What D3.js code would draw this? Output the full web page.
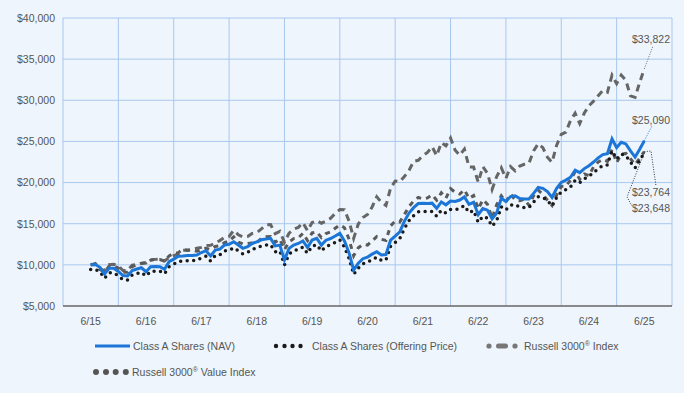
<!DOCTYPE html>
<html>
<head>
<meta charset="utf-8">
<script src="https://cdn.jsdelivr.net/npm/d3@7"></script>
<style>
  html, body { margin: 0; padding: 0; background: #eef5fc; }
  svg text { font-family: "Liberation Sans", Arial, sans-serif; fill: #555; }
</style>
</head>
<body>
<div id="chart"></div>
<script>
// growth of $10,000, monthly from 6/15 to 6/25
var yearLabels = ['6/15', '6/16', '6/17', '6/18', '6/19', '6/20', '6/21', '6/22', '6/23', '6/24', '6/25'];
var yTicks = [5000, 10000, 15000, 20000, 25000, 30000, 35000, 40000];

var navValues = [
  10000, 10050, 9700, 8890, 9580, 9580, 9200, 8700, 8650, 9300, 9500, 9650,
  9170, 9780, 9800, 9780, 9460, 10380, 10700, 11050, 11080, 11150, 11150, 11200,
  11500, 11720, 11080, 11800, 11900, 12410, 12500, 12810, 12410, 12010, 12200, 12600,
  12800, 13050, 13150, 13220, 12300, 12400, 10600, 12000, 12400, 12600, 12900, 12100,
  13020, 13220, 12410, 13000, 13200, 13500, 13830, 12900, 11450, 9375, 10190, 10750,
  10950, 11300, 11600, 11200, 11250, 13000, 13500, 14000, 15300, 16300, 16950, 17450,
  17500, 17450, 17500, 16870, 17650, 17300, 17750, 17700, 17880, 18250, 17350, 17600,
  16100, 16850, 16650, 15600, 16300, 18100, 17700, 18300, 18400, 18050, 18000, 18000,
  18690, 19400, 19300, 18900, 18200, 19300, 20030, 20300, 20650, 21500, 21200, 21700,
  22050, 22500, 23000, 23400, 23500, 25300, 24250, 24900, 24700, 23850, 23100, 24050,
  25090
];

var offeringValues = [
  9425, 9472, 9142, 8379, 9029, 9029, 8671, 8200, 8153, 8765, 8954, 9095,
  8643, 9218, 9237, 9218, 8916, 9783, 10085, 10415, 10443, 10509, 10509, 10556,
  10839, 11046, 10443, 11122, 11216, 11696, 11781, 12073, 11696, 11319, 11499, 11876,
  12064, 12300, 12394, 12460, 11593, 11687, 9991, 11310, 11687, 11876, 12158, 11404,
  12271, 12460, 11696, 12253, 12441, 12724, 13035, 12158, 10792, 8836, 9604, 10132,
  10320, 10650, 10933, 10556, 10603, 12253, 12724, 13195, 14420, 15363, 15975, 16447,
  16494, 16447, 16494, 15900, 16635, 16305, 16729, 16682, 16852, 17201, 16352, 16588,
  15174, 15881, 15693, 14703, 15363, 17059, 16682, 17248, 17342, 17012, 16965, 16965,
  17615, 18285, 18190, 17813, 17154, 18190, 18878, 19133, 19463, 20264, 19981, 20452,
  20782, 21206, 21678, 22055, 22149, 23845, 22856, 23468, 23280, 22479, 21772, 22667,
  23648
];

var r3000Values = [
  10000, 10170, 9560, 9283, 10016, 10076, 9865, 9312, 9312, 9964, 10024, 10204,
  10225, 10634, 10666, 10687, 10452, 10922, 11130, 11341, 11761, 11773, 11891, 12010,
  12118, 12348, 12373, 12670, 12949, 13337, 13470, 14184, 13659, 13386, 13440, 13816,
  13913, 14372, 14861, 14890, 13788, 14064, 12756, 13853, 14338, 14553, 15135, 14151,
  15142, 15369, 15062, 15333, 15655, 16250, 16721, 16704, 15334, 13218, 14963, 15756,
  16118, 17037, 18264, 17606, 17219, 19319, 20188, 20107, 20730, 21476, 22593, 22706,
  23274, 23669, 24356, 23260, 24841, 24469, 25423, 23923, 23325, 24071, 21905, 21883,
  20045, 21929, 21118, 19154, 20725, 21803, 20517, 21932, 21428, 22007, 22227, 22338,
  23857, 24716, 24246, 23082, 22459, 24548, 25849, 26133, 27544, 28426, 27175, 28452,
  29334, 29891, 30549, 31190, 30972, 33047, 32023, 33048, 32420, 30539, 30356, 32180,
  33822
];

var r3000ValueValues = [
  10000, 10044, 9435, 9155, 9828, 9861, 9617, 9111, 9105, 9791, 10011, 10175,
  10270, 10572, 10660, 10643, 10455, 11096, 11390, 11485, 11890, 11776, 11758, 11656,
  11847, 12006, 11866, 12226, 12316, 12703, 12899, 13405, 12767, 12542, 12584, 12665,
  12707, 13208, 13409, 13442, 12735, 13110, 11841, 12781, 13195, 13265, 13827, 12948,
  13885, 14000, 13319, 13804, 14002, 14442, 14837, 14517, 13112, 11100, 12068, 12484,
  12399, 12900, 13434, 13103, 12977, 14734, 15315, 15212, 16131, 17089, 17779, 18194,
  18001, 18134, 18502, 17862, 18762, 18111, 19260, 18824, 18605, 19132, 18068, 18418,
  16802, 17918, 17370, 15690, 17311, 18392, 17664, 18607, 17905, 17804, 17954, 17258,
  18405, 19075, 18567, 17847, 17211, 18510, 19533, 19561, 20292, 21315, 20404, 21046,
  20842, 21912, 22491, 22814, 22572, 24023, 22422, 23463, 23540, 22889, 22188, 22974,
  23764
];

var svgWidth = 684;
var svgHeight = 393;
var plot = {left: 63, right: 672, top: 18, bottom: 306};

var svg = d3.select('#chart').append('svg')
  .attr('width', svgWidth)
  .attr('height', svgHeight);

svg.append('rect')
  .attr('width', svgWidth)
  .attr('height', svgHeight)
  .attr('fill', '#eef5fc');

var y = d3.scaleLinear()
  .domain([5000, 40000])
  .range([plot.bottom, plot.top]);

var xBand = d3.scaleBand()
  .domain(yearLabels)
  .range([plot.left, plot.right]);

var half = xBand.bandwidth() / 2;
var x = d3.scaleLinear()
  .domain([0, navValues.length - 1])
  .range([xBand(yearLabels[0]) + half, xBand(yearLabels[yearLabels.length - 1]) + half]);

// grid
var gridColor = '#a9c7ee';
svg.append('g').selectAll('line.h')
  .data(yTicks.slice(1))
  .enter().append('line')
  .attr('x1', plot.left).attr('x2', plot.right)
  .attr('y1', d => y(d)).attr('y2', d => y(d))
  .attr('stroke', gridColor).attr('stroke-width', 1);

var edges = yearLabels.map(d => xBand(d)).concat([plot.right]);
svg.append('g').selectAll('line.v')
  .data(edges)
  .enter().append('line')
  .attr('x1', d => d).attr('x2', d => d)
  .attr('y1', plot.top).attr('y2', plot.bottom)
  .attr('stroke', gridColor).attr('stroke-width', 1);

// axes
var yAxis = svg.append('g')
  .attr('transform', 'translate(' + plot.left + ',0)')
  .call(d3.axisLeft(y).tickValues(yTicks).tickSize(0).tickPadding(8)
    .tickFormat(d => '$' + d3.format(',')(d)));
yAxis.select('.domain').remove();
yAxis.selectAll('text').style('font-size', '10.5px').style('fill', '#555');

var xAxis = svg.append('g')
  .attr('transform', 'translate(0,' + plot.bottom + ')')
  .call(d3.axisBottom(xBand).tickSize(0).tickPadding(12));
xAxis.select('.domain').remove();
xAxis.selectAll('text').style('font-size', '10.5px').style('fill', '#555');

svg.append('line')
  .attr('x1', plot.left).attr('x2', plot.right)
  .attr('y1', plot.bottom).attr('y2', plot.bottom)
  .attr('stroke', '#666').attr('stroke-width', 1.5);

// series
var line = d3.line()
  .x((d, i) => x(i))
  .y(d => y(d));

svg.append('path')
  .datum(r3000Values)
  .attr('d', line)
  .attr('fill', 'none')
  .attr('stroke', '#666')
  .attr('stroke-width', 3)
  .attr('stroke-dasharray', '7,5');

svg.append('path')
  .datum(r3000ValueValues)
  .attr('d', line)
  .attr('fill', 'none')
  .attr('stroke', '#5a5a5a')
  .attr('stroke-width', 3)
  .attr('stroke-dasharray', '5,5');

svg.append('path')
  .datum(offeringValues)
  .attr('d', line)
  .attr('fill', 'none')
  .attr('stroke', '#1a1a1a')
  .attr('stroke-width', 3.5)
  .attr('stroke-linecap', 'round')
  .attr('stroke-dasharray', '0,6.5');

svg.append('path')
  .datum(navValues)
  .attr('d', line)
  .attr('fill', 'none')
  .attr('stroke', '#1b76d8')
  .attr('stroke-width', 3);

// end labels with leader lines
var last = navValues.length - 1;
var endLabels = [
  {text: '$33,822', v: r3000Values[last], pts: [[653, 46]], ty: 43, color: '#666'},
  {text: '$25,090', v: navValues[last], pts: [[652, 126]], ty: 124, color: '#1b76d8'},
  {text: '$23,764', v: r3000ValueValues[last], pts: [[651, 151], [656, 186]], ty: 196, color: '#333'},
  {text: '$23,648', v: offeringValues[last], pts: [[627, 197], [632, 206]], ty: 212, color: '#333'}
];

endLabels.forEach(function(l) {
  var pts = [[x(last), y(l.v)]].concat(l.pts);
  svg.append('path')
    .attr('d', d3.line()(pts))
    .attr('fill', 'none')
    .attr('stroke', l.color)
    .attr('stroke-width', 1)
    .attr('stroke-dasharray', '1,1.5');
  svg.append('text')
    .attr('x', 670)
    .attr('y', l.ty)
    .attr('text-anchor', 'end')
    .style('font-size', '10.5px')
    .text(l.text);
});

// legend
var lg = svg.append('g');
lg.append('line')
  .attr('x1', 95).attr('x2', 130).attr('y1', 346).attr('y2', 346)
  .attr('stroke', '#1b76d8').attr('stroke-width', 3);
lg.append('text').attr('x', 133).attr('y', 350).style('font-size', '10.5px')
  .text('Class A Shares (NAV)');

[276, 284.5, 292.5, 300.5].forEach(function(cx) {
  lg.append('circle').attr('cx', cx).attr('cy', 346).attr('r', 2.2).attr('fill', '#1a1a1a');
});
lg.append('text').attr('x', 312).attr('y', 350).style('font-size', '10.5px')
  .text('Class A Shares (Offering Price)');

lg.append('circle').attr('cx', 489).attr('cy', 346).attr('r', 2.6).attr('fill', '#777');
lg.append('rect').attr('x', 496).attr('y', 343.5).attr('width', 12).attr('height', 5)
  .attr('rx', 2.5).attr('fill', '#777');
lg.append('circle').attr('cx', 515).attr('cy', 346).attr('r', 2.6).attr('fill', '#777');
var t3 = lg.append('text').attr('x', 524).attr('y', 350).style('font-size', '10.5px');
t3.append('tspan').text('Russell 3000');
t3.append('tspan').attr('dy', -4).style('font-size', '7px').text('®');
t3.append('tspan').attr('dy', 4).text(' Index');

[96, 106, 115.7, 125.8].forEach(function(cx) {
  lg.append('circle').attr('cx', cx).attr('cy', 372).attr('r', 3).attr('fill', '#555');
});
var t4 = lg.append('text').attr('x', 132).attr('y', 376).style('font-size', '10.5px');
t4.append('tspan').text('Russell 3000');
t4.append('tspan').attr('dy', -4).style('font-size', '7px').text('®');
t4.append('tspan').attr('dy', 4).text(' Value Index');
</script>
</body>
</html>
